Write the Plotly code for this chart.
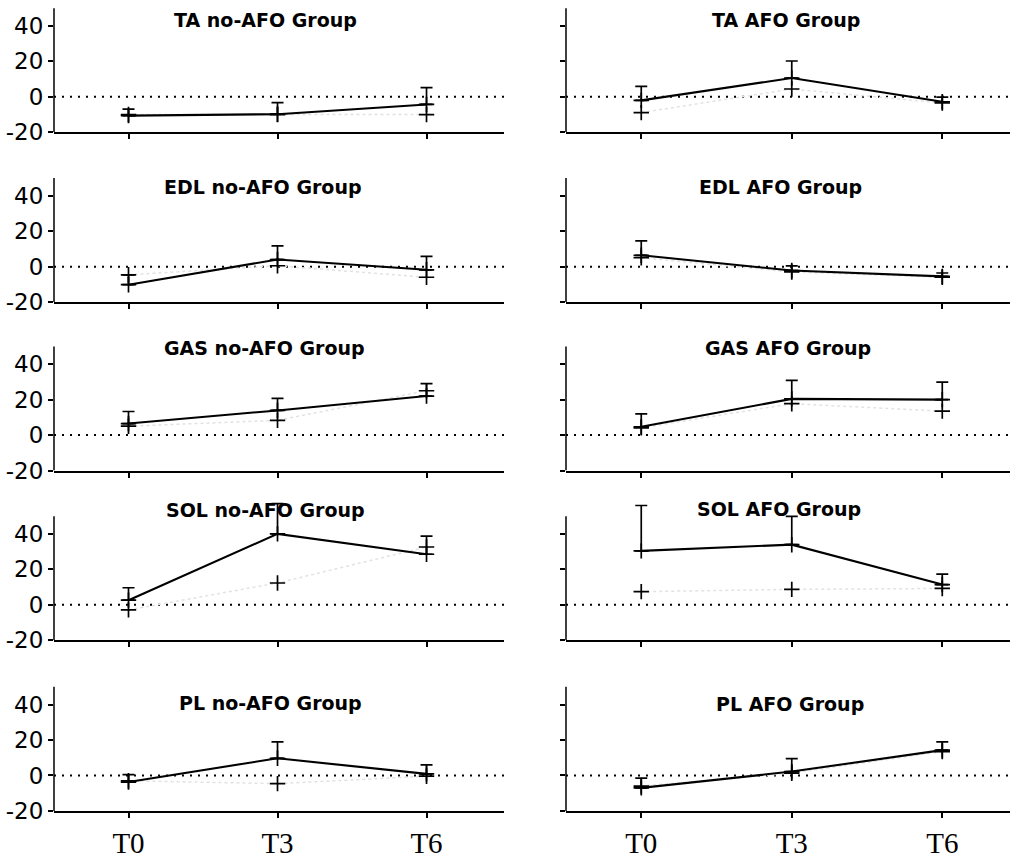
import plotly.graph_objects as go

# ---- data ----
timepoints = ["T0", "T3", "T6"]
muscles = ["TA", "EDL", "GAS", "SOL", "PL"]
groups = ["no-AFO", "AFO"]

# no-AFO group: mean (solid line), upper error, second series ("+" markers, faint line)
noafo_mean = [[-10.6, -9.8, -4.3], [-10.2, 4.0, -1.8], [6.5, 13.9, 22.0], [2.6, 40.0, 28.5], [-3.7, 9.7, 0.9]]
noafo_err = [[3.7, 6.5, 9.5], [5.6, 7.7, 7.6], [6.8, 6.8, 7.0], [7.0, 17.0, 10.2], [4.2, 9.2, 5.1]]
noafo_ref = [[-10.0, -10.0, -10.0], [-4.6, 0.5, -6.0], [5.0, 8.3, 25.0], [-2.9, 12.3, 32.6], [-3.0, -4.6, -0.4]]

# AFO group
afo_mean = [[-2.0, 10.6, -2.8], [6.4, -2.2, -5.5], [4.7, 20.4, 20.0], [30.4, 33.9, 11.4], [-7.0, 2.2, 14.3]]
afo_err = [[7.9, 9.6, 2.6], [8.1, 2.6, 1.9], [7.2, 10.4, 9.9], [25.6, 16.0, 5.9], [5.5, 7.3, 4.6]]
afo_ref = [[-8.9, 4.4, -3.5], [5.0, -3.0, -6.0], [4.1, 17.7, 13.5], [7.4, 8.7, 9.2], [-6.0, 1.3, 13.5]]

y_ticks = [-20, 0, 20, 40]
y_tick_text = ["-20", "0", "20", "40"]
y_axis_span = [-20, 50]      # visible extent of the drawn y-axis line
y_plot_max = 58              # plotting range top (room for tall error bars)

# ---- layout geometry (pixels) ----
W, H = 1010, 866
row_bottom_px = [134.3, 306.7, 477.7, 650.0, 823.3]
px_per_unit = 1.8
col_px = [(54, 504), (566, 1010)]
x_ranges = [[-0.5, 2.52], [-0.5, 2.45]]
title_px = [
    [(265.7, 20), (785.8, 20)],
    [(262.5, 190), (780, 190)],
    [(264, 353.3), (788, 353)],
    [(265, 517.3), (779, 517)],
    [(270.8, 713.3), (790, 715)],
]

means = [noafo_mean, afo_mean]
errs = [noafo_err, afo_err]
refs = [noafo_ref, afo_ref]

xs = list(range(len(timepoints)))

fig = go.Figure()
layout = dict(
    width=W, height=H,
    margin=dict(l=0, r=0, t=0, b=0),
    paper_bgcolor="white", plot_bgcolor="white",
    showlegend=False,
)
shapes = []
annotations = []

marker = dict(symbol="cross-thin", size=11, line=dict(width=1.7, color="black"), color="black")

for r, m in enumerate(muscles):
    bottom = row_bottom_px[r]
    y_top = min(y_plot_max, y_axis_span[0] + (bottom - 1) / px_per_unit)
    top = bottom - (y_top - y_axis_span[0]) * px_per_unit
    for c, g in enumerate(groups):
        k = r * 2 + c + 1
        xa = "x" if k == 1 else f"x{k}"
        ya = "y" if k == 1 else f"y{k}"
        # faint second series
        fig.add_trace(go.Scatter(
            x=xs, y=refs[c][r], mode="lines+markers",
            line=dict(color="#e2e2e2", width=1.5, dash="dot"),
            marker=marker, xaxis=xa, yaxis=ya, cliponaxis=False,
        ))
        # main series with upper error bars
        fig.add_trace(go.Scatter(
            x=xs, y=means[c][r], mode="lines+markers",
            line=dict(color="black", width=2.1),
            marker=marker,
            error_y=dict(type="data", array=errs[c][r], arrayminus=[0] * len(xs),
                         symmetric=False, color="black", thickness=1.7, width=6),
            xaxis=xa, yaxis=ya, cliponaxis=False,
        ))
        x0, x1 = col_px[c]
        layout["xaxis" if k == 1 else f"xaxis{k}"] = dict(
            domain=[x0 / W, x1 / W], range=x_ranges[c], anchor=ya,
            showline=True, linewidth=2, linecolor="black", mirror=False,
            ticks="outside", ticklen=5, tickwidth=1.5, tickcolor="black",
            tickvals=xs, ticktext=timepoints,
            showticklabels=(r == len(muscles) - 1),
            tickfont=dict(family="Liberation Serif", size=29, color="black"),
            showgrid=False, zeroline=False, fixedrange=True,
        )
        layout["yaxis" if k == 1 else f"yaxis{k}"] = dict(
            domain=[1 - bottom / H, 1 - top / H], range=[y_axis_span[0], y_top], anchor=xa,
            showline=False,
            ticks="outside", ticklen=5, tickwidth=1.5, tickcolor="black",
            tickvals=y_ticks, ticktext=y_tick_text, showticklabels=(c == 0),
            tickfont=dict(family="DejaVu Sans", size=23, color="black"),
            showgrid=False, zeroline=False, fixedrange=True,
        )
        # y-axis line only up to the top of the visible scale
        shapes.append(dict(
            type="line", xref=f"{xa} domain", x0=0, x1=0, yref=ya,
            y0=y_axis_span[0], y1=y_axis_span[1],
            line=dict(color="black", width=1.5), layer="above",
        ))
        # dotted zero reference line
        shapes.append(dict(
            type="line", xref=f"{xa} domain", x0=0, x1=1, yref=ya, y0=0, y1=0,
            line=dict(color="black", width=2, dash="2px,6px"), layer="below",
        ))
        tx, ty = title_px[r][c]
        annotations.append(dict(
            text=f"<b>{m} {g} Group</b>", xref="paper", yref="paper",
            x=tx / W, y=1 - ty / H, xanchor="center", yanchor="middle",
            showarrow=False,
            font=dict(family="DejaVu Sans", size=19, color="black"),
        ))

layout["shapes"] = shapes
layout["annotations"] = annotations
fig.update_layout(**layout)
fig.write_html(
    "out.html",
    config={"displayModeBar": False},
    post_script="document.body.style.margin='0';document.body.style.overflow='hidden';",
)
